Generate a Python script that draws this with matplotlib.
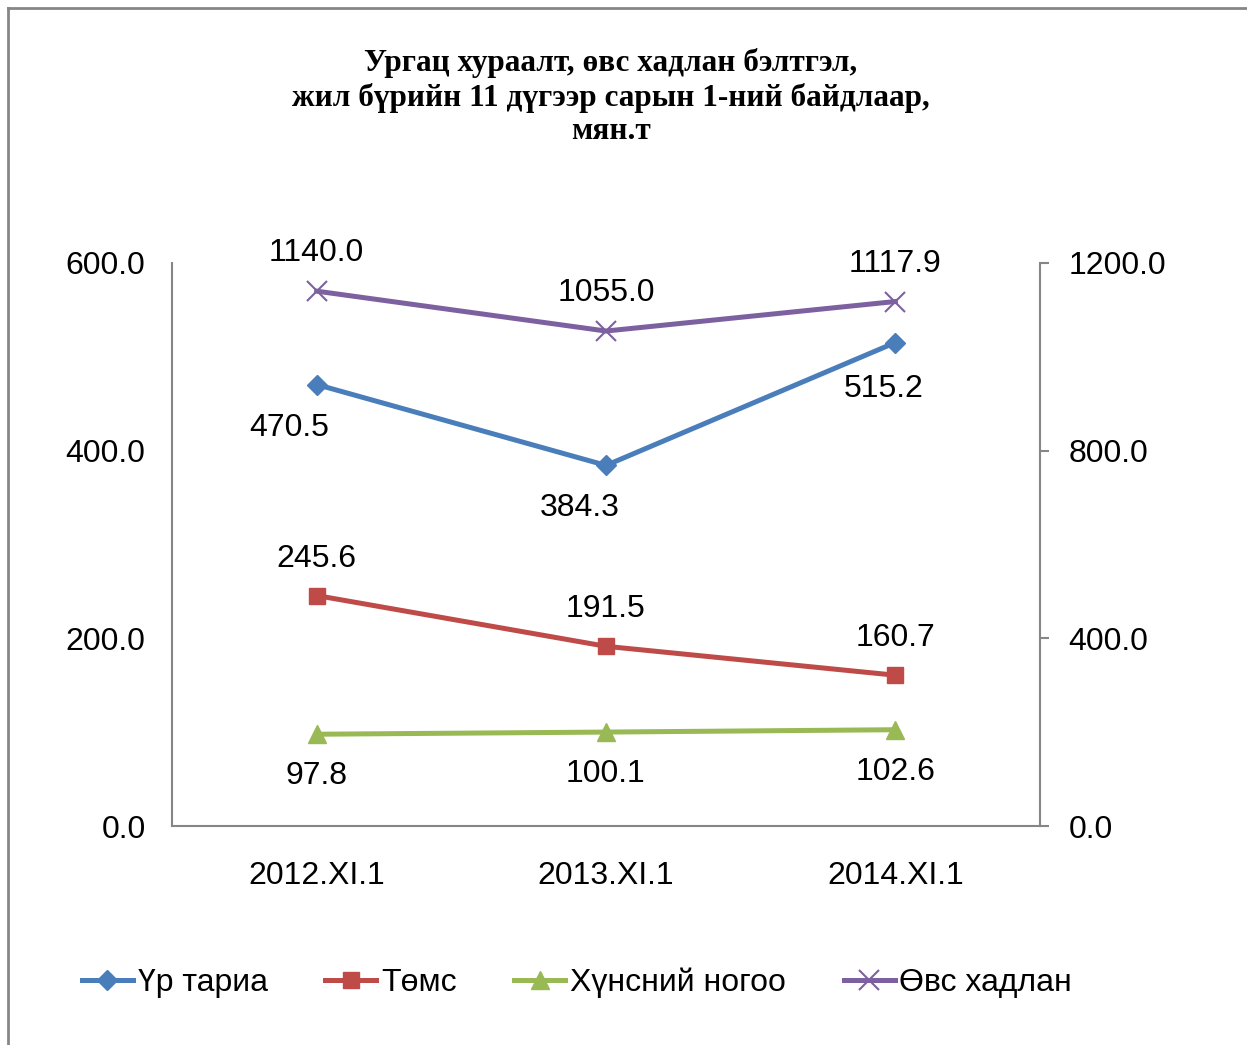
import matplotlib
matplotlib.use("Agg")
import matplotlib.pyplot as plt
from matplotlib.lines import Line2D

categories = ["2012.XI.1", "2013.XI.1", "2014.XI.1"]
grain = [470.5, 384.3, 515.2]
potato = [245.6, 191.5, 160.7]
vegetables = [97.8, 100.1, 102.6]
hay = [1140.0, 1055.0, 1117.9]
left_ticks = [0, 200, 400, 600]
right_ticks = [0, 400, 800, 1200]
series_names = ["Үр тариа", "Төмс", "Хүнсний ногоо", "Өвс хадлан"]
title = "Ургац хураалт, өвс хадлан бэлтгэл,\nжил бүрийн 11 дүгээр сарын 1-ний байдлаар,\nмян.т"

plt.rcParams["font.family"] = ["Liberation Sans", "DejaVu Sans"]
FS = 23

c_blue = "#4A7EBB"
c_red = "#BE4B48"
c_green = "#98B954"
c_purple = "#7D60A0"
grey = "#868686"

fig = plt.figure(figsize=(12.47, 10.45), dpi=100)
W, H = 1247, 1045

# chart border
fig.add_artist(plt.Line2D([8 / W, 8 / W], [0, 1 - 8 / H], color=grey, lw=2, transform=fig.transFigure))
fig.add_artist(plt.Line2D([8 / W, 1], [1 - 8 / H, 1 - 8 / H], color=grey, lw=2, transform=fig.transFigure))

ax = fig.add_axes([172 / W, 1 - 826 / H, (1040 - 172) / W, (826 - 263) / H])
ax2 = ax.twinx()

x = list(range(len(categories)))
lw = 3.6
ax.plot(x, grain, color=c_blue, lw=lw, marker="D", ms=10, zorder=3)
ax.plot(x, potato, color=c_red, lw=lw, marker="s", ms=12, zorder=3)
ax.plot(x, vegetables, color=c_green, lw=lw, marker="^", ms=13, zorder=3)
ax2.plot(x, hay, color=c_purple, lw=lw, marker="x", ms=14, mew=1.5, zorder=3)

ax.set_xlim(-0.5, 2.5)
ax.set_ylim(0, 600)
ax2.set_ylim(0, 1200)
ax.set_xticks(x)
ax.set_xticklabels(categories, fontsize=FS)
ax.set_yticks(left_ticks)
ax.set_yticklabels([f"{v:.1f}" for v in left_ticks], fontsize=FS)
ax2.set_yticks(right_ticks)
ax2.set_yticklabels([f"{v:.1f}" for v in right_ticks], fontsize=FS)

for a in (ax, ax2):
    for s in a.spines.values():
        s.set_visible(False)
ax.spines["left"].set_visible(True)
ax.spines["bottom"].set_visible(True)
ax2.spines["right"].set_visible(True)
for s in (ax.spines["left"], ax.spines["bottom"], ax2.spines["right"]):
    s.set_color(grey)
    s.set_linewidth(1.5)

ax.tick_params(axis="y", length=0, pad=19)
ax.tick_params(axis="x", length=0, pad=25)
ax2.tick_params(axis="y", length=6.5, width=1.5, color=grey, pad=14)

k = 72 / 100

def lab(a, xi, yi, dx, dy):
    a.annotate(f"{yi:.1f}", (xi, yi), xytext=(dx * k, dy * k), textcoords="offset points",
               ha="center", va="center", fontsize=FS, zorder=5)

for i, v in enumerate(hay):
    lab(ax2, i, v, 0, 38)
grain_dx = [-27, -26, -12]
grain_dy = [-43, -43, -46]
for i, v in enumerate(grain):
    lab(ax, i, v, grain_dx[i], grain_dy[i])
for i, v in enumerate(potato):
    lab(ax, i, v, 0, 37)
for i, v in enumerate(vegetables):
    lab(ax, i, v, 0, -42)

fig.text(611 / W, 1 - 97 / H, title, ha="center", va="center", fontsize=22.5,
         fontweight="bold", family=["Liberation Serif", "DejaVu Serif"], linespacing=1.2)

handles = [
    Line2D([], [], color=c_blue, lw=lw, marker="D", ms=10),
    Line2D([], [], color=c_red, lw=lw, marker="s", ms=12),
    Line2D([], [], color=c_green, lw=lw, marker="^", ms=13),
    Line2D([], [], color=c_purple, lw=lw, marker="x", ms=14, mew=1.5),
]
fig.legend(handles, series_names, loc="center", bbox_to_anchor=(577 / W, 1 - 983 / H), ncol=4,
           frameon=False, fontsize=FS, handlelength=1.6, handletextpad=0.15, columnspacing=1.8)

fig.savefig("out.png", dpi=100)
